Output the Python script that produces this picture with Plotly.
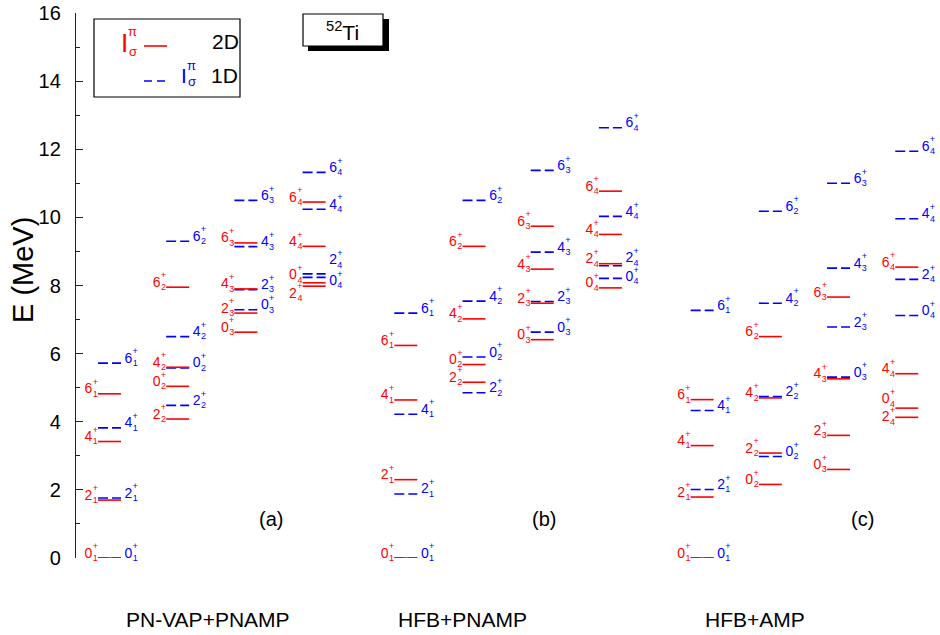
import plotly.graph_objects as go

# ---------------- data (MeV) ----------------
panels = ["PN-VAP+PNAMP", "HFB+PNAMP", "HFB+AMP"]
panel_tags = ["(a)", "(b)", "(c)"]
spins = [0, 2, 4, 6]          # J values, order of the energies within each column
sigmas = [1, 2, 3, 4]         # sigma index = column

# energies per column (sigma), listed for J = 0, 2, 4, 6
a_2d = [[0.00, 1.70, 3.42, 4.82], [5.04, 4.08, 5.60, 7.95], [6.63, 7.19, 7.90, 9.25], [8.08, 7.98, 9.15, 10.45]]
a_1d = [[0.00, 1.76, 3.82, 5.72], [5.58, 4.48, 6.50, 9.30], [7.29, 7.88, 9.14, 10.50], [8.24, 8.34, 10.24, 11.32]]
b_2d = [[0.00, 2.30, 4.64, 6.24], [5.68, 5.16, 7.02, 9.15], [6.41, 7.48, 8.48, 9.74], [7.93, 8.64, 9.50, 10.77]]
b_1d = [[0.00, 1.88, 4.22, 7.19], [5.90, 4.85, 7.54, 10.50], [6.63, 7.53, 8.98, 11.38], [8.21, 8.58, 10.03, 12.63]]
c_2d = [[0.00, 1.79, 3.30, 4.65], [2.16, 3.08, 4.70, 6.50], [2.60, 3.60, 5.26, 7.66], [4.40, 4.13, 5.41, 8.54]]
c_1d = [[0.00, 2.01, 4.33, 7.27], [2.98, 4.74, 7.48, 10.18], [5.31, 6.78, 8.51, 11.00], [7.12, 8.18, 9.96, 11.94]]

data_2d = [a_2d, b_2d, c_2d]
data_1d = [a_1d, b_1d, c_1d]

y_ticks = [0, 2, 4, 6, 8, 10, 12, 14, 16]

# ---------------- styling / geometry ----------------
W, H = 940, 635
ML, MR, MT, MB = 76, 0, 13, 77
PX_X = 68.2                    # px per x unit
PX_Y = (H - MT - MB) / 16.0    # px per MeV
X0 = -33.5 / PX_X
X1 = X0 + (W - ML - MR) / PX_X
PANEL_OFF = 4.345
HW = 11.5 / PX_X
RED = "#ff0000"
BLUE = "#0000ff"
FONT = "Liberation Sans, Arial, Helvetica, sans-serif"

# label nudges in px (panel, kind, J, sigma)
nudge = {(0, "r", 0, 4): 3, (0, "r", 2, 4): -12, (0, "b", 2, 4): 9, (0, "b", 0, 4): -8,
         (1, "b", 2, 4): 3, (1, "b", 0, 4): -3,
         (2, "r", 0, 4): 4.5, (2, "r", 2, 4): -4.5}

def dx(px):
    return px / PX_X

def dy(px):
    return px / PX_Y

def xp(px):
    return (px - ML) / (W - ML - MR)

def yp(py):
    return (H - MB - py) / (H - MT - MB)

fig = go.Figure()

def build(series, kind):
    lx, ly = [], []
    dig = {"x": [], "y": [], "t": []}
    stk = {"x": [], "y": [], "t": []}
    for p, pdata in enumerate(series):
        for ci, col in enumerate(pdata):
            xc = p * PANEL_OFF + ci
            s = sigmas[ci]
            for j, e in zip(spins, col):
                lx += [xc - HW, xc + HW, None]
                ly += [e, e, None]
                n = dy(nudge.get((p, kind, j, s), 0))
                if kind == "r":
                    xd, xs = xc - HW - dx(9.6), xc - HW - dx(2.7)
                else:
                    xd, xs = xc + HW + dx(7.5), xc + HW + dx(14.2)
                dig["x"].append(xd); dig["y"].append(e + dy(4) + n); dig["t"].append(str(j))
                stk["x"].append(xs); stk["y"].append(e + dy(5.2) + n); stk["t"].append("+<br>" + str(s))
    return lx, ly, dig, stk

for kind, series, color, dash in [("b", data_1d, BLUE, "10px,4px"), ("r", data_2d, RED, "solid")]:
    lx, ly, dig, stk = build(series, kind)
    fig.add_trace(go.Scatter(x=lx, y=ly, mode="lines", line=dict(color=color, width=1.6, dash=dash),
                             hoverinfo="skip", showlegend=False, cliponaxis=False))
    fig.add_trace(go.Scatter(x=dig["x"], y=dig["y"], text=dig["t"], mode="text", textposition="middle center",
                             textfont=dict(color=color, size=14, family=FONT), showlegend=False,
                             hoverinfo="skip", cliponaxis=False))
    fig.add_trace(go.Scatter(x=stk["x"], y=stk["y"], text=stk["t"], mode="text", textposition="middle center",
                             textfont=dict(color=color, size=9, family=FONT), showlegend=False,
                             hoverinfo="skip", cliponaxis=False))

shapes = []
annotations = []

# legend box
shapes.append(dict(type="rect", xref="paper", yref="paper", x0=xp(94), x1=xp(240), y0=yp(97), y1=yp(19),
                   line=dict(color="black", width=1.2), fillcolor="white", layer="above"))
shapes.append(dict(type="line", xref="paper", yref="paper", x0=xp(144), x1=xp(167), y0=yp(46), y1=yp(46),
                   line=dict(color=RED, width=1.6)))
shapes.append(dict(type="line", xref="paper", yref="paper", x0=xp(144), x1=xp(167), y0=yp(81), y1=yp(81),
                   line=dict(color=BLUE, width=1.6, dash="8px,5px")))

def ann(text, px, py, size, color="black", xanchor="center", textangle=0):
    annotations.append(dict(text=text, xref="paper", yref="paper", x=xp(px), y=yp(py), showarrow=False,
                            xanchor=xanchor, yanchor="middle", textangle=textangle,
                            font=dict(size=size, color=color, family=FONT)))

ann("I", 124.5, 43, 26, RED)
ann("π", 132.5, 32, 13, RED)
ann("σ", 132.5, 51, 13, RED)
ann("2D", 225.5, 42, 21)
ann("I", 183.5, 76, 21, BLUE)
ann("π", 191.5, 66, 13, BLUE)
ann("σ", 191.5, 82, 13, BLUE)
ann("1D", 224, 76, 21)

# nucleus box with shadow
shapes.append(dict(type="rect", xref="paper", yref="paper", x0=xp(308), x1=xp(389), y0=yp(51), y1=yp(19),
                   line=dict(color="black", width=0), fillcolor="black", layer="above"))
shapes.append(dict(type="rect", xref="paper", yref="paper", x0=xp(303), x1=xp(383), y0=yp(46), y1=yp(14),
                   line=dict(color="black", width=1.2), fillcolor="white", layer="above"))
ann("<sup>52</sup>Ti", 342, 31, 21)

# panel tags and method names
for p, (name, tag) in enumerate(zip(panels, panel_tags)):
    ann(tag, [271, 544, 862][p], 519, 20)
    ann(name, [208, 462, 755][p], 619, 21)

ann("E (MeV)", 23, 270, 29, textangle=-90)

fig.update_layout(
    width=W, height=H, margin=dict(l=ML, r=MR, t=MT, b=MB),
    paper_bgcolor="white", plot_bgcolor="white",
    shapes=shapes, annotations=annotations, showlegend=False,
    xaxis=dict(range=[X0, X1], visible=False, fixedrange=True),
    yaxis=dict(range=[0, 16], tickvals=y_ticks, ticktext=[str(v) for v in y_ticks],
               showgrid=False, zeroline=False, showline=True, linecolor="#222", linewidth=1.3,
               ticks="inside", ticklen=7, tickwidth=1.3, tickcolor="#222",
               minor=dict(ticks="inside", ticklen=4, dtick=1, tickcolor="#222", tickwidth=1.3, showgrid=False),
               tickfont=dict(size=20, family=FONT, color="black"), ticklabelstandoff=10,
               fixedrange=True),
)

fig.write_html("out.html")
